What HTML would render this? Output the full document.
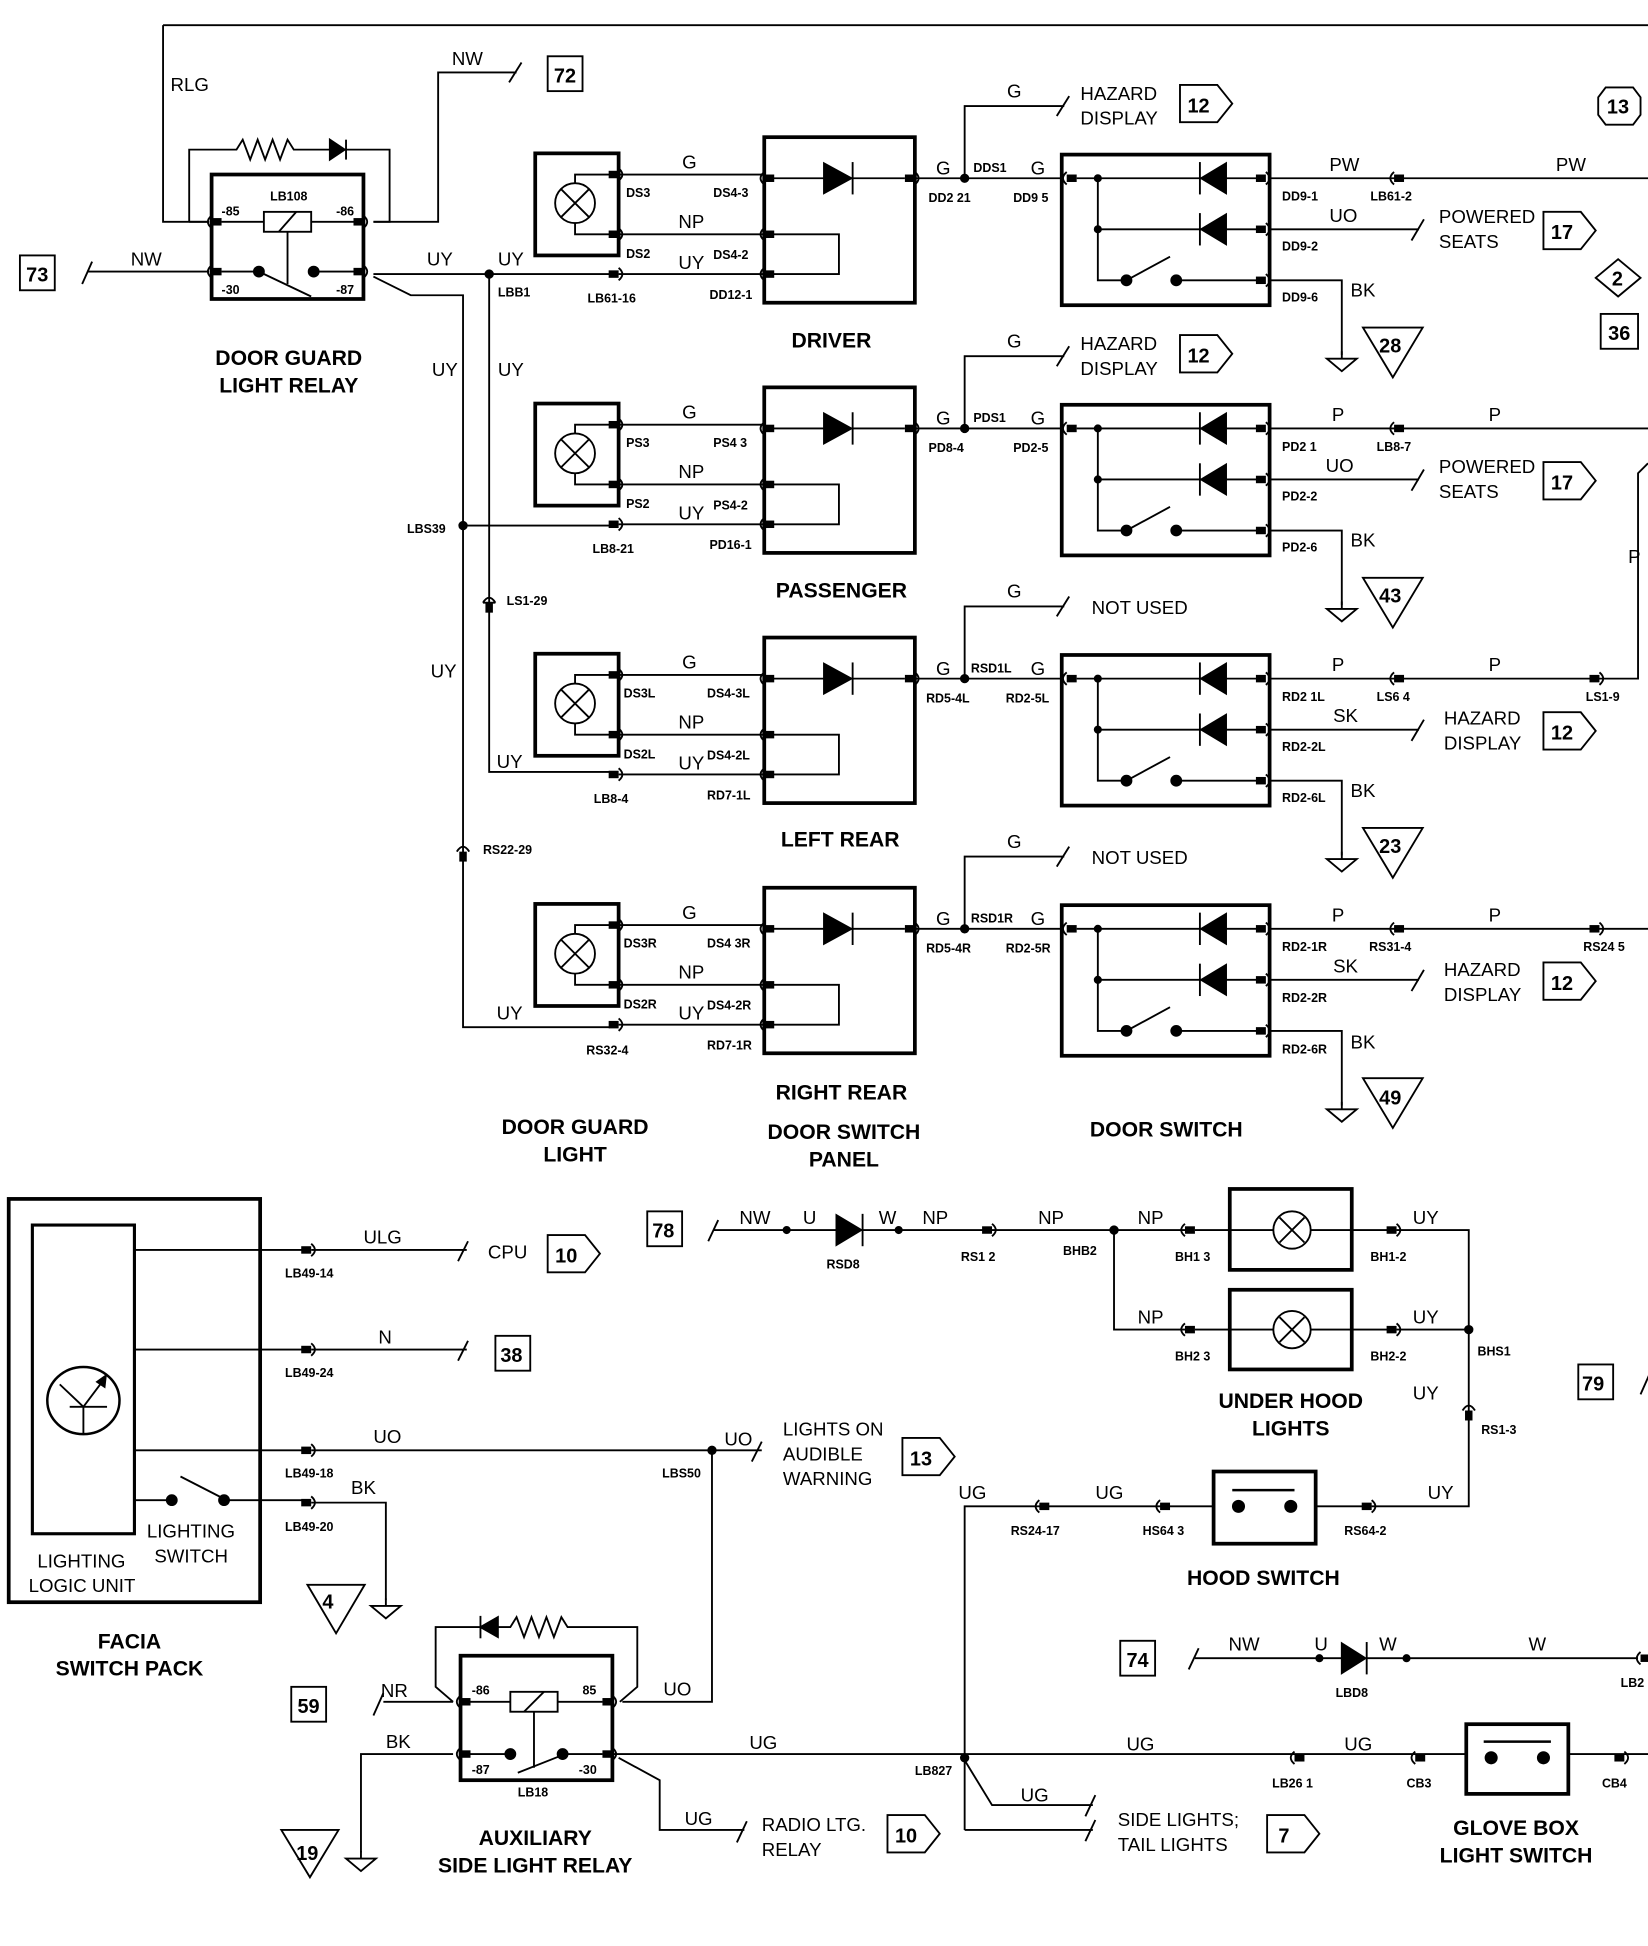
<!DOCTYPE html>
<html><head><meta charset="utf-8"><style>
html,body{margin:0;padding:0;background:#fff}
svg{display:block}
text{font-family:"Liberation Sans",sans-serif;fill:#000}
.l{font-size:15px}
.s{font-size:10px;font-weight:bold}
.t{font-size:17px;font-weight:bold}
.n{font-size:16px;font-weight:bold}
</style></head><body>
<svg width="1648" height="1946" viewBox="0 0 1324 1563" xmlns="http://www.w3.org/2000/svg" stroke="#000" fill="none" stroke-width="1.5">
<defs>
<g id="cr"><rect x="-8" y="-3" width="8" height="6" fill="#000" stroke="none"/><path d="M0,-5 Q6,0 0,5"/></g>
<g id="cl"><rect x="0" y="-3" width="8" height="6" fill="#000" stroke="none"/><path d="M0,-5 Q-6,0 0,5"/></g>
<g id="gnd"><line x1="0" y1="-6" x2="0" y2="0"/><polygon points="-12,0 12,0 0,10"/></g>
<g id="row">
 <rect x="430" y="123" width="67" height="82" stroke-width="3"/>
 <circle cx="462" cy="163" r="16"/>
 <path d="M451,152 L473,174 M473,152 L451,174"/>
 <path d="M462,147 V140 H490 M462,179 V188 H490"/>
 <use href="#cr" x="497" y="140"/><use href="#cr" x="497" y="188"/><use href="#cr" x="497" y="220"/>
 <path d="M497,140 H614 M497,188 H614 M497,220 H614"/>
 <rect x="614" y="110" width="121" height="133" stroke-width="3"/>
 <use href="#cl" x="614" y="143"/><use href="#cl" x="614" y="188"/><use href="#cl" x="614" y="220"/>
 <use href="#cr" x="735" y="143"/>
 <path d="M620,143 H727"/>
 <polygon points="662,131 662,155 684,143" fill="#000"/>
 <line x1="685" y1="130" x2="685" y2="156"/>
 <path d="M620,188 H674 V220 H620"/>
 <path d="M735,143 H853"/>
 <circle cx="775" cy="143" r="3" fill="#000"/>
 <path d="M775,143 V85 H855"/><line x1="849" y1="93" x2="859" y2="77"/>
 <rect x="853" y="124" width="167" height="121" stroke-width="3"/>
 <use href="#cl" x="857" y="143"/><use href="#cr" x="1017" y="143"/><use href="#cr" x="1017" y="184"/><use href="#cr" x="1017" y="225"/>
 <path d="M865,143 H1010 M882,143 V225 H905 M882,184 H1010 M945,225 H1010"/>
 <circle cx="882" cy="143" r="2.5" fill="#000"/><circle cx="882" cy="184" r="2.5" fill="#000"/>
 <polygon points="985,131 985,155 965,143" fill="#000"/><line x1="964" y1="130" x2="964" y2="156"/>
 <polygon points="985,172 985,196 965,184" fill="#000"/><line x1="964" y1="171" x2="964" y2="197"/>
 <circle cx="905" cy="225" r="4" fill="#000"/><circle cx="945" cy="225" r="4" fill="#000"/>
 <line x1="905" y1="225" x2="940" y2="206"/>
 <path d="M1020,184 H1140"/><line x1="1134" y1="193" x2="1144" y2="176"/>
 <path d="M1020,225 H1078 V285"/><use href="#gnd" x="1078" y="288"/>
 <polygon points="1095,263 1143,263 1119,303"/>
</g>
<g id="ab"><polygon points="0,0 30,0 42,15 30,30 0,30"/></g>
</defs>

<!-- top wiring -->
<path d="M131,20 H1324 M131,20 V178 H168"/>
<text class="l" x="137" y="73" stroke="none">RLG</text>
<path d="M300,178 H352 V58 H415"/><line x1="409" y1="66" x2="419" y2="50"/>
<text class="l" x="363" y="52" stroke="none">NW</text>
<rect x="440" y="45" width="28" height="28"/><text class="n" x="445" y="66" stroke="none">72</text>
<!-- relay -->
<rect x="170" y="140" width="122" height="100" stroke-width="3"/>
<path d="M152,178 V120 H190 l5,-8 l6,16 l6,-16 l6,16 l6,-16 l6,16 l6,-16 l5,8 H313 V178 H300"/>
<polygon points="265,112 265,128 277,120" fill="#000"/><line x1="278" y1="112" x2="278" y2="128"/>
<path d="M152,178 H168"/>
<use href="#cl" x="170" y="178"/><use href="#cr" x="292" y="178"/><use href="#cl" x="170" y="218"/><use href="#cr" x="292" y="218"/>
<path d="M178,178 H212 M250,178 H284"/>
<rect x="212" y="170" width="38" height="16"/><line x1="224" y1="186" x2="238" y2="170"/>
<line x1="231" y1="186" x2="231" y2="228"/>
<path d="M178,218 H208 M252,218 H284"/>
<circle cx="208" cy="218" r="4" fill="#000"/><circle cx="252" cy="218" r="4" fill="#000"/>
<line x1="208" y1="218" x2="250" y2="238"/>
<text class="s" x="217" y="161" stroke="none">LB108</text>
<text class="s" x="178" y="173" stroke="none">-85</text><text class="s" x="270" y="173" stroke="none">-86</text>
<text class="s" x="178" y="236" stroke="none">-30</text><text class="s" x="270" y="236" stroke="none">-87</text>
<rect x="16" y="205" width="28" height="28"/><text class="n" x="21" y="226" stroke="none">73</text>
<path d="M70,218 H168"/><line x1="66" y1="228" x2="74" y2="210"/>
<text class="l" x="105" y="213" stroke="none">NW</text>
<text class="t" x="232" y="293" text-anchor="middle" stroke="none">DOOR GUARD</text>
<text class="t" x="232" y="315" text-anchor="middle" stroke="none">LIGHT RELAY</text>
<path d="M300,220 H497"/>
<path d="M300,222 L330,237 H372 V825 H490"/>
<path d="M393,220 V620 H490"/>
<circle cx="393" cy="220" r="3" fill="#000"/>
<path d="M372,422 H490"/><circle cx="372" cy="422" r="3" fill="#000"/>
<path d="M388,484 Q393,476 398,484 M388,484 H398" />
<path d="M367,684 Q372,676 377,684"/><rect x="369" y="684" width="6" height="8" fill="#000" stroke="none"/>
<rect x="390" y="484" width="6" height="8" fill="#000" stroke="none"/>
<text class="l" x="343" y="213" stroke="none">UY</text><text class="l" x="400" y="213" stroke="none">UY</text>
<text class="s" x="400" y="238" stroke="none">LBB1</text>
<text class="l" x="347" y="302" stroke="none">UY</text><text class="l" x="400" y="302" stroke="none">UY</text>
<text class="s" x="327" y="428" stroke="none">LBS39</text>
<text class="s" x="407" y="486" stroke="none">LS1-29</text>
<text class="l" x="346" y="544" stroke="none">UY</text>
<text class="s" x="388" y="686" stroke="none">RS22-29</text>
<text class="l" x="399" y="617" stroke="none">UY</text>
<text class="l" x="399" y="819" stroke="none">UY</text>

<!-- rows -->
<use href="#row"/>
<use href="#row" y="201"/>
<use href="#row" y="402"/>
<use href="#row" y="603"/>
<g stroke="none">
<!-- driver -->
<text class="l" x="548" y="135">G</text><text class="s" x="503" y="158">DS3</text><text class="s" x="573" y="158">DS4-3</text>
<text class="l" x="545" y="183">NP</text><text class="s" x="503" y="207">DS2</text><text class="l" x="545" y="216">UY</text><text class="s" x="573" y="208">DS4-2</text>
<text class="s" x="472" y="243">LB61-16</text><text class="s" x="570" y="240">DD12-1</text>
<text class="t" x="668" y="279" text-anchor="middle">DRIVER</text>
<text class="l" x="752" y="140">G</text><text class="s" x="782" y="138">DDS1</text><text class="l" x="828" y="140">G</text>
<text class="s" x="746" y="162">DD2 21</text><text class="s" x="814" y="162">DD9 5</text>
<text class="l" x="809" y="78">G</text><text class="l" x="868" y="80">HAZARD</text><text class="l" x="868" y="100">DISPLAY</text>
<text class="l" x="1068" y="137">PW</text><text class="l" x="1250" y="137">PW</text>
<text class="s" x="1030" y="161">DD9-1</text><text class="s" x="1101" y="161">LB61-2</text>
<text class="l" x="1068" y="178">UO</text><text class="s" x="1030" y="201">DD9-2</text>
<text class="l" x="1156" y="179">POWERED</text><text class="l" x="1156" y="199">SEATS</text>
<text class="l" x="1085" y="238">BK</text><text class="s" x="1030" y="242">DD9-6</text>
<text class="n" x="1108" y="283">28</text>
<!-- passenger -->
<text class="l" x="548" y="336">G</text><text class="s" x="503" y="359">PS3</text><text class="s" x="573" y="359">PS4 3</text>
<text class="l" x="545" y="384">NP</text><text class="s" x="503" y="408">PS2</text><text class="l" x="545" y="417">UY</text><text class="s" x="573" y="409">PS4-2</text>
<text class="s" x="476" y="444">LB8-21</text><text class="s" x="570" y="441">PD16-1</text>
<text class="t" x="676" y="480" text-anchor="middle">PASSENGER</text>
<text class="l" x="752" y="341">G</text><text class="s" x="782" y="339">PDS1</text><text class="l" x="828" y="341">G</text>
<text class="s" x="746" y="363">PD8-4</text><text class="s" x="814" y="363">PD2-5</text>
<text class="l" x="809" y="279">G</text><text class="l" x="868" y="281">HAZARD</text><text class="l" x="868" y="301">DISPLAY</text>
<text class="l" x="1070" y="338">P</text><text class="l" x="1196" y="338">P</text>
<text class="s" x="1030" y="362">PD2 1</text><text class="s" x="1106" y="362">LB8-7</text>
<text class="l" x="1065" y="379">UO</text><text class="s" x="1030" y="402">PD2-2</text>
<text class="l" x="1156" y="380">POWERED</text><text class="l" x="1156" y="400">SEATS</text>
<text class="l" x="1085" y="439">BK</text><text class="s" x="1030" y="443">PD2-6</text>
<text class="n" x="1108" y="484">43</text>
<!-- left rear -->
<text class="l" x="548" y="537">G</text><text class="s" x="501" y="560">DS3L</text><text class="s" x="568" y="560">DS4-3L</text>
<text class="l" x="545" y="585">NP</text><text class="s" x="501" y="609">DS2L</text><text class="l" x="545" y="618">UY</text><text class="s" x="568" y="610">DS4-2L</text>
<text class="s" x="477" y="645">LB8-4</text><text class="s" x="568" y="642">RD7-1L</text>
<text class="t" x="675" y="680" text-anchor="middle">LEFT REAR</text>
<text class="l" x="752" y="542">G</text><text class="s" x="780" y="540">RSD1L</text><text class="l" x="828" y="542">G</text>
<text class="s" x="744" y="564">RD5-4L</text><text class="s" x="808" y="564">RD2-5L</text>
<text class="l" x="809" y="480">G</text><text class="l" x="877" y="493">NOT USED</text>
<text class="l" x="1070" y="539">P</text><text class="l" x="1196" y="539">P</text>
<text class="s" x="1030" y="563">RD2 1L</text><text class="s" x="1106" y="563">LS6 4</text><text class="s" x="1274" y="563">LS1-9</text>
<text class="l" x="1071" y="580">SK</text><text class="s" x="1030" y="603">RD2-2L</text>
<text class="l" x="1160" y="582">HAZARD</text><text class="l" x="1160" y="602">DISPLAY</text>
<text class="l" x="1085" y="640">BK</text><text class="s" x="1030" y="644">RD2-6L</text>
<text class="n" x="1108" y="685">23</text>
<!-- right rear -->
<text class="l" x="548" y="738">G</text><text class="s" x="501" y="761">DS3R</text><text class="s" x="568" y="761">DS4 3R</text>
<text class="l" x="545" y="786">NP</text><text class="s" x="501" y="810">DS2R</text><text class="l" x="545" y="819">UY</text><text class="s" x="568" y="811">DS4-2R</text>
<text class="s" x="471" y="847">RS32-4</text><text class="s" x="568" y="843">RD7-1R</text>
<text class="t" x="676" y="883" text-anchor="middle">RIGHT REAR</text>
<text class="l" x="752" y="743">G</text><text class="s" x="780" y="741">RSD1R</text><text class="l" x="828" y="743">G</text>
<text class="s" x="744" y="765">RD5-4R</text><text class="s" x="808" y="765">RD2-5R</text>
<text class="l" x="809" y="681">G</text><text class="l" x="877" y="694">NOT USED</text>
<text class="l" x="1070" y="740">P</text><text class="l" x="1196" y="740">P</text>
<text class="s" x="1030" y="764">RD2-1R</text><text class="s" x="1100" y="764">RS31-4</text><text class="s" x="1272" y="764">RS24 5</text>
<text class="l" x="1071" y="781">SK</text><text class="s" x="1030" y="805">RD2-2R</text>
<text class="l" x="1160" y="784">HAZARD</text><text class="l" x="1160" y="804">DISPLAY</text>
<text class="l" x="1085" y="842">BK</text><text class="s" x="1030" y="846">RD2-6R</text>
<text class="n" x="1108" y="887">49</text>
<text class="t" x="462" y="911" text-anchor="middle">DOOR GUARD</text>
<text class="t" x="462" y="933" text-anchor="middle">LIGHT</text>
<text class="t" x="678" y="915" text-anchor="middle">DOOR SWITCH</text>
<text class="t" x="678" y="937" text-anchor="middle">PANEL</text>
<text class="t" x="937" y="913" text-anchor="middle">DOOR SWITCH</text>
</g>
<!-- hazard boxes & right side wires -->
<use href="#ab" x="948" y="68"/><text class="n" x="954" y="90" stroke="none">12</text>
<use href="#ab" x="948" y="269"/><text class="n" x="954" y="291" stroke="none">12</text>
<use href="#ab" x="1240" y="170"/><text class="n" x="1246" y="192" stroke="none">17</text>
<use href="#ab" x="1240" y="371"/><text class="n" x="1246" y="393" stroke="none">17</text>
<use href="#ab" x="1240" y="572"/><text class="n" x="1246" y="594" stroke="none">12</text>
<use href="#ab" x="1240" y="773"/><text class="n" x="1246" y="795" stroke="none">12</text>
<path d="M1020,143 H1324"/><use href="#cl" x="1120" y="143"/>
<path d="M1020,344 H1324"/><use href="#cl" x="1120" y="344"/>
<path d="M1020,545 H1316 V380 L1324,372"/><use href="#cl" x="1120" y="545"/><use href="#cr" x="1285" y="545"/>
<text class="l" x="1308" y="452" stroke="none">P</text>
<path d="M1020,746 H1324"/><use href="#cl" x="1120" y="746"/><use href="#cr" x="1285" y="746"/>
<polygon points="1290,70 1312,70 1318,78 1318,92 1312,100 1290,100 1284,92 1284,78"/>
<text class="n" x="1291" y="91" stroke="none">13</text>
<polygon points="1300,208 1318,223 1300,238 1282,223"/><text class="n" x="1295" y="229" stroke="none">2</text>
<rect x="1286" y="252" width="30" height="28"/><text class="n" x="1292" y="273" stroke="none">36</text>

<!-- bottom: facia -->
<rect x="7" y="963" width="202" height="324" stroke-width="3"/>
<rect x="26" y="984" width="82" height="248" stroke-width="2.5"/>
<ellipse cx="67" cy="1125" rx="29" ry="27" stroke-width="2"/>
<path d="M48,1112 L67,1130 M56,1130 H86 M67,1130 V1152 M67,1130 L82,1110"/>
<polygon points="85,1105 78,1110 84,1114" fill="#000"/>
<path d="M108,1004 H245 M108,1084 H245 M108,1165 H245 M108,1205 H138 M180,1205 H245"/>
<circle cx="138" cy="1205" r="4" fill="#000"/><circle cx="180" cy="1205" r="4" fill="#000"/>
<line x1="145" y1="1186" x2="182" y2="1205"/>
<use href="#cr" x="250" y="1004"/><use href="#cr" x="250" y="1084"/><use href="#cr" x="250" y="1165"/><use href="#cr" x="250" y="1207"/>
<path d="M250,1004 H375 M250,1084 H375 M250,1165 H612 M250,1207 H310 V1285"/>
<line x1="368" y1="1013" x2="376" y2="997"/><line x1="368" y1="1093" x2="376" y2="1077"/><line x1="604" y1="1174" x2="612" y2="1158"/>
<use href="#gnd" x="310" y="1290"/>
<polygon points="247,1273 293,1273 270,1312"/>
<use href="#ab" x="440" y="992"/><rect x="398" y="1073" width="28" height="28"/>
<use href="#ab" x="725" y="1155"/>
<circle cx="572" cy="1165" r="3" fill="#000"/>
<path d="M572,1165 V1367 H500"/>
<g stroke="none">
<text class="s" x="229" y="1026">LB49-14</text><text class="s" x="229" y="1106">LB49-24</text>
<text class="s" x="229" y="1187">LB49-18</text><text class="s" x="229" y="1230">LB49-20</text>
<text class="l" x="292" y="999">ULG</text><text class="l" x="304" y="1079">N</text><text class="l" x="300" y="1159">UO</text><text class="l" x="282" y="1200">BK</text>
<text class="l" x="392" y="1011">CPU</text><text class="n" x="446" y="1014">10</text><text class="n" x="402" y="1094">38</text>
<text class="s" x="532" y="1187">LBS50</text><text class="l" x="582" y="1161">UO</text>
<text class="l" x="629" y="1153">LIGHTS ON</text><text class="l" x="629" y="1173">AUDIBLE</text><text class="l" x="629" y="1193">WARNING</text>
<text class="n" x="731" y="1177">13</text>
<text class="l" x="118" y="1235">LIGHTING</text><text class="l" x="124" y="1255">SWITCH</text>
<text class="l" x="30" y="1259">LIGHTING</text><text class="l" x="23" y="1279">LOGIC UNIT</text>
<text class="n" x="259" y="1292">4</text>
<text class="t" x="104" y="1324" text-anchor="middle">FACIA</text><text class="t" x="104" y="1346" text-anchor="middle">SWITCH PACK</text>
</g>
<!-- aux relay -->
<rect x="370" y="1330" width="122" height="100" stroke-width="3"/>
<path d="M364,1367 L350,1355 V1307 H386 M400,1307 H410 l5,-8 l6,16 l6,-16 l6,16 l6,-16 l6,16 l6,-16 l5,8 H512 V1355 L498,1367"/>
<polygon points="400,1299 400,1315 386,1307" fill="#000"/><line x1="386" y1="1298" x2="386" y2="1316"/>
<use href="#cl" x="370" y="1367"/><use href="#cr" x="492" y="1367"/><use href="#cl" x="370" y="1409"/><use href="#cr" x="492" y="1409"/>
<path d="M378,1367 H410 M448,1367 H484"/>
<rect x="410" y="1359" width="38" height="16"/><line x1="421" y1="1375" x2="437" y2="1359"/>
<line x1="429" y1="1375" x2="429" y2="1420"/>
<path d="M378,1409 H410 M452,1409 H484"/>
<circle cx="410" cy="1409" r="4" fill="#000"/><circle cx="452" cy="1409" r="4" fill="#000"/>
<line x1="416" y1="1424" x2="454" y2="1409"/>
<rect x="234" y="1355" width="28" height="28"/>
<path d="M308,1367 H364"/><line x1="300" y1="1378" x2="308" y2="1360"/>
<path d="M364,1409 H290 V1488"/><use href="#gnd" x="290" y="1493"/>
<polygon points="226,1470 272,1470 249,1508"/>
<path d="M492,1409 H1324"/>
<path d="M497,1412 L530,1430 V1470 H598"/><line x1="592" y1="1480" x2="600" y2="1463"/>
<use href="#ab" x="713" y="1458"/>
<g stroke="none">
<text class="s" x="379" y="1361">-86</text><text class="s" x="468" y="1361">85</text>
<text class="s" x="379" y="1425">-87</text><text class="s" x="465" y="1425">-30</text>
<text class="s" x="416" y="1443">LB18</text>
<text class="n" x="239" y="1376">59</text>
<text class="l" x="306" y="1363">NR</text><text class="l" x="310" y="1404">BK</text>
<text class="l" x="533" y="1362">UO</text><text class="l" x="602" y="1405">UG</text>
<text class="l" x="550" y="1466">UG</text>
<text class="l" x="612" y="1471">RADIO LTG.</text><text class="l" x="612" y="1491">RELAY</text>
<text class="n" x="719" y="1480">10</text>
<text class="n" x="238" y="1494">19</text>
<text class="t" x="430" y="1482" text-anchor="middle">AUXILIARY</text>
<text class="t" x="430" y="1504" text-anchor="middle">SIDE LIGHT RELAY</text>
</g>
<!-- under hood -->
<rect x="520" y="973" width="28" height="28"/>
<path d="M573,988 H672 M692,988 H895 H958"/><line x1="569" y1="997" x2="577" y2="980"/>
<circle cx="632" cy="988" r="2.5" fill="#000"/><circle cx="722" cy="988" r="2.5" fill="#000"/>
<polygon points="672,976 672,1000 692,988" fill="#000"/><line x1="693" y1="975" x2="693" y2="1001"/>
<use href="#cr" x="797" y="988"/>
<circle cx="895" cy="988" r="3" fill="#000"/>
<path d="M895,988 V1068 H958"/>
<use href="#cl" x="952" y="988"/><use href="#cl" x="952" y="1068"/>
<rect x="988" y="955" width="98" height="65" stroke-width="3"/>
<rect x="988" y="1036" width="98" height="64" stroke-width="3"/>
<path d="M960,988 H1115 M960,1068 H1115"/>
<circle cx="1038" cy="988" r="15" fill="#fff"/><path d="M1028,978 L1048,998 M1048,978 L1028,998"/>
<circle cx="1038" cy="1068" r="15" fill="#fff"/><path d="M1028,1058 L1048,1078 M1048,1058 L1028,1078"/>
<use href="#cr" x="1122" y="988"/><use href="#cr" x="1122" y="1068"/>
<path d="M1122,988 H1180 V1210 H1102 M1122,1068 H1180"/>
<circle cx="1180" cy="1068" r="3" fill="#000"/>
<path d="M1175,1133 Q1180,1125 1185,1133"/><rect x="1177" y="1133" width="6" height="8" fill="#000" stroke="none"/>
<!-- hood switch -->
<path d="M775,1470 V1210 H1102"/>
<use href="#cl" x="835" y="1210"/><use href="#cl" x="932" y="1210"/><use href="#cr" x="1102" y="1210"/>
<rect x="975" y="1182" width="82" height="58" fill="#fff" stroke-width="3"/>
<line x1="990" y1="1197" x2="1040" y2="1197" stroke-width="2"/>
<circle cx="995" cy="1210" r="4.5" fill="#000"/><circle cx="1037" cy="1210" r="4.5" fill="#000"/>
<circle cx="775" cy="1412" r="3" fill="#000"/>
<path d="M775,1414 L797,1450 H878 M775,1470 H878"/>
<line x1="872" y1="1459" x2="880" y2="1442"/><line x1="872" y1="1479" x2="880" y2="1462"/>
<use href="#ab" x="1018" y="1458"/>
<use href="#cl" x="1040" y="1412"/><use href="#cl" x="1137" y="1412"/><use href="#cr" x="1305" y="1412"/>
<rect x="1178" y="1385" width="82" height="56" fill="#fff" stroke-width="3"/>
<line x1="1192" y1="1399" x2="1246" y2="1399" stroke-width="2"/>
<circle cx="1198" cy="1412" r="4.5" fill="#000"/><circle cx="1240" cy="1412" r="4.5" fill="#000"/>
<rect x="900" y="1318" width="28" height="28"/>
<path d="M960,1332 H1078 M1098,1332 H1316"/><line x1="955" y1="1341" x2="963" y2="1324"/>
<circle cx="1060" cy="1332" r="2.5" fill="#000"/><circle cx="1130" cy="1332" r="2.5" fill="#000"/>
<polygon points="1078,1320 1078,1344 1097,1332" fill="#000"/><line x1="1098" y1="1319" x2="1098" y2="1345"/>
<use href="#cl" x="1318" y="1332"/>
<rect x="1268" y="1096" width="28" height="28"/>
<line x1="1318" y1="1120" x2="1326" y2="1102"/>
<g stroke="none">
<text class="n" x="524" y="994">78</text>
<text class="l" x="594" y="983">NW</text><text class="l" x="645" y="983">U</text><text class="l" x="706" y="983">W</text><text class="l" x="741" y="983">NP</text>
<text class="s" x="664" y="1019">RSD8</text><text class="s" x="772" y="1013">RS1 2</text>
<text class="l" x="834" y="983">NP</text><text class="s" x="854" y="1008">BHB2</text>
<text class="l" x="914" y="983">NP</text><text class="s" x="944" y="1013">BH1 3</text>
<text class="l" x="1135" y="983">UY</text><text class="s" x="1101" y="1013">BH1-2</text>
<text class="l" x="914" y="1063">NP</text><text class="s" x="944" y="1093">BH2 3</text>
<text class="l" x="1135" y="1063">UY</text><text class="s" x="1101" y="1093">BH2-2</text>
<text class="s" x="1187" y="1089">BHS1</text>
<text class="l" x="1135" y="1124">UY</text><text class="s" x="1190" y="1152">RS1-3</text>
<text class="t" x="1037" y="1131" text-anchor="middle">UNDER HOOD</text><text class="t" x="1037" y="1153" text-anchor="middle">LIGHTS</text>
<text class="n" x="1271" y="1117">79</text>
<text class="l" x="770" y="1204">UG</text><text class="l" x="880" y="1204">UG</text><text class="l" x="1147" y="1204">UY</text>
<text class="s" x="812" y="1233">RS24-17</text><text class="s" x="918" y="1233">HS64 3</text><text class="s" x="1080" y="1233">RS64-2</text>
<text class="t" x="1015" y="1273" text-anchor="middle">HOOD SWITCH</text>
<text class="n" x="905" y="1339">74</text>
<text class="l" x="987" y="1326">NW</text><text class="l" x="1056" y="1326">U</text><text class="l" x="1108" y="1326">W</text><text class="l" x="1228" y="1326">W</text>
<text class="s" x="1073" y="1363">LBD8</text><text class="s" x="1302" y="1355">LB2</text>
<text class="s" x="735" y="1426">LB827</text>
<text class="l" x="905" y="1406">UG</text><text class="l" x="1080" y="1406">UG</text>
<text class="s" x="1022" y="1436">LB26 1</text><text class="s" x="1130" y="1436">CB3</text><text class="s" x="1287" y="1436">CB4</text>
<text class="l" x="820" y="1447">UG</text>
<text class="l" x="898" y="1467">SIDE LIGHTS;</text><text class="l" x="898" y="1487">TAIL LIGHTS</text>
<text class="n" x="1027" y="1480">7</text>
<text class="t" x="1218" y="1474" text-anchor="middle">GLOVE BOX</text><text class="t" x="1218" y="1496" text-anchor="middle">LIGHT SWITCH</text>
</g>
</svg>
</body></html>
